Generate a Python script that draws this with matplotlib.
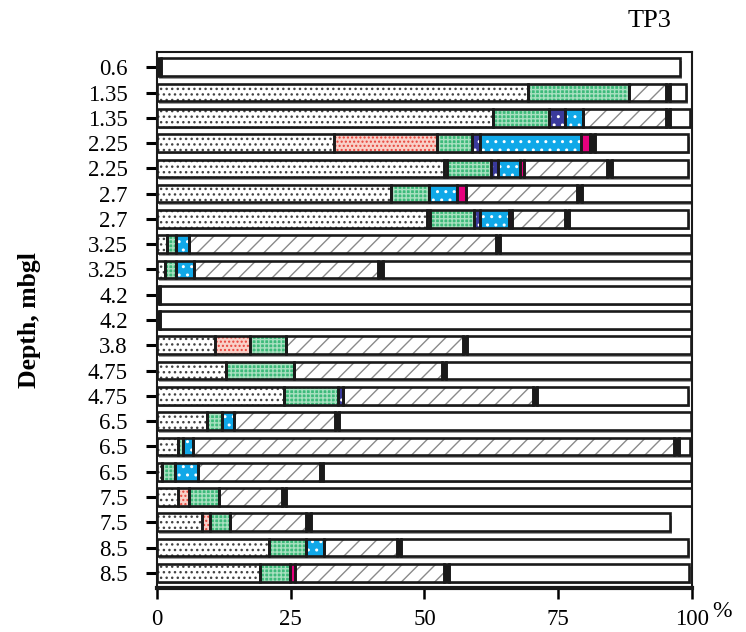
import numpy as np
import matplotlib
matplotlib.use("Agg")
import matplotlib.pyplot as plt

# depth labels, top row first
depths = ["0.6", "1.35", "1.35", "2.25", "2.25", "2.7", "2.7", "3.25", "3.25",
          "4.2", "4.2", "3.8", "4.75", "4.75", "6.5", "6.5", "6.5", "7.5", "7.5",
          "8.5", "8.5"]

# segment widths in %, one value per row (same order as depths)
dotted = [0, 69.4, 62.8, 33.0, 53.7, 43.8, 50.4, 1.8, 1.5, 0, 0, 10.9, 12.9,
          23.8, 9.3, 3.9, 0.9, 3.9, 8.4, 20.9, 19.3]
red = [0, 0, 0, 19.4, 0.5, 0, 0.7, 0, 0, 0, 0, 6.4, 0, 0, 0, 0, 0, 2.0, 1.5, 0, 0]
green = [0, 18.8, 10.5, 6.5, 8.2, 7.0, 8.1, 1.8, 2.0, 0, 0, 6.8, 12.8, 10.1,
         2.9, 1.0, 2.5, 5.6, 3.8, 6.9, 5.5]
navy = [0, 0, 3.0, 1.4, 1.3, 0, 1.1, 0, 0, 0, 0, 0, 0, 0.8, 0, 0, 0, 0, 0, 0, 0]
cyan = [0, 0, 3.3, 19.0, 4.1, 5.3, 5.5, 2.4, 3.5, 0, 0, 0, 0, 0, 2.1, 1.9, 4.3,
        0, 0, 3.5, 0]
magenta = [0, 0, 0, 1.7, 0.8, 1.6, 0.6, 0, 0, 0, 0, 0, 0, 0, 0, 0, 0, 0, 0, 0, 1.0]
hatched = [0, 6.9, 15.5, 0, 15.6, 20.9, 9.8, 57.3, 34.4, 0, 0, 33.1, 27.6, 35.5,
           18.9, 89.9, 22.7, 11.8, 14.1, 13.6, 27.8]
black = [0.7, 0.8, 0.8, 0.8, 0.8, 0.9, 0.8, 0.8, 0.8, 0.6, 0.6, 0.8, 0.8, 0.9,
         0.9, 0.9, 0.6, 0.8, 0.9, 0.7, 1.0]
white = [97.1, 3.0, 3.8, 17.5, 14.3, 20.5, 22.3, 35.7, 57.6, 99.2, 99.2, 41.8,
         45.7, 28.2, 65.7, 2.1, 68.8, 75.9, 67.2, 53.7, 44.9]

x_ticks = [0, 25, 50, 75, 100]

plt.rcParams['font.family'] = ['Liberation Serif', 'DejaVu Serif']
plt.rcParams['hatch.linewidth'] = 1.0

# (values, face colour, hatch, hatch colour)
segments = [
    (dotted, "white", "...", "#444444"),
    (red, "#f9d0c8", "....", "#e8453c"),
    (green, "#3dba7a", "++++", "#a8e0c0"),
    (navy, "#3a3a9c", "..", "white"),
    (cyan, "#10a8e8", "..", "white"),
    (magenta, "#e5007d", None, None),
    (hatched, "white", "//", "#8a8a8a"),
    (black, "#1a1a1a", None, None),
    (white, "white", None, None),
]

fig = plt.figure(figsize=(7.46, 6.32), dpi=100)
ax = fig.add_axes([0.2105, 0.0696, 0.717, 0.848])

y = np.arange(len(depths))
h = 0.7
totals = np.zeros(len(depths))
for seg in segments:
    totals += np.array(seg[0])

# grey shadow under each bar
ax.barh(y + 0.1, totals, left=0.3, height=h, color="#9a9a9a", lw=0, zorder=1)

left = np.zeros(len(depths))
for vals, face, hatch, hcol in segments:
    vals = np.array(vals)
    ax.barh(y, vals, left=left, height=h, color=face, hatch=hatch,
            edgecolor=hcol if hcol else face, lw=0, zorder=2)
    ax.barh(y, vals, left=left, height=h, fill=False, edgecolor="#1a1a1a",
            lw=1.9, zorder=3)
    left += vals

ax.set_ylim(20.6, -0.6)
ax.set_xlim(0, 100)
ax.set_yticks(y)
ax.set_yticklabels(depths, fontsize=16.5)
ax.set_xticks(x_ticks)
ax.set_xticklabels([str(t) for t in x_ticks], fontsize=16.5)
ax.tick_params(axis="y", length=8, width=2.2, pad=13)
ax.tick_params(axis="x", length=8, width=1.8, pad=7)
for s in ax.spines.values():
    s.set_linewidth(1.5)
    s.set_color("#1a1a1a")
ax.spines["bottom"].set_linewidth(3)

ax.set_ylabel("Depth, mbgl", fontsize=18.5, fontweight="bold", labelpad=34)
fig.text(0.871, 0.967, "TP3", fontsize=19, ha="center", va="center")
fig.text(0.968, 0.033, "%", fontsize=17, ha="center", va="center")

fig.savefig("out.png", dpi=100)
